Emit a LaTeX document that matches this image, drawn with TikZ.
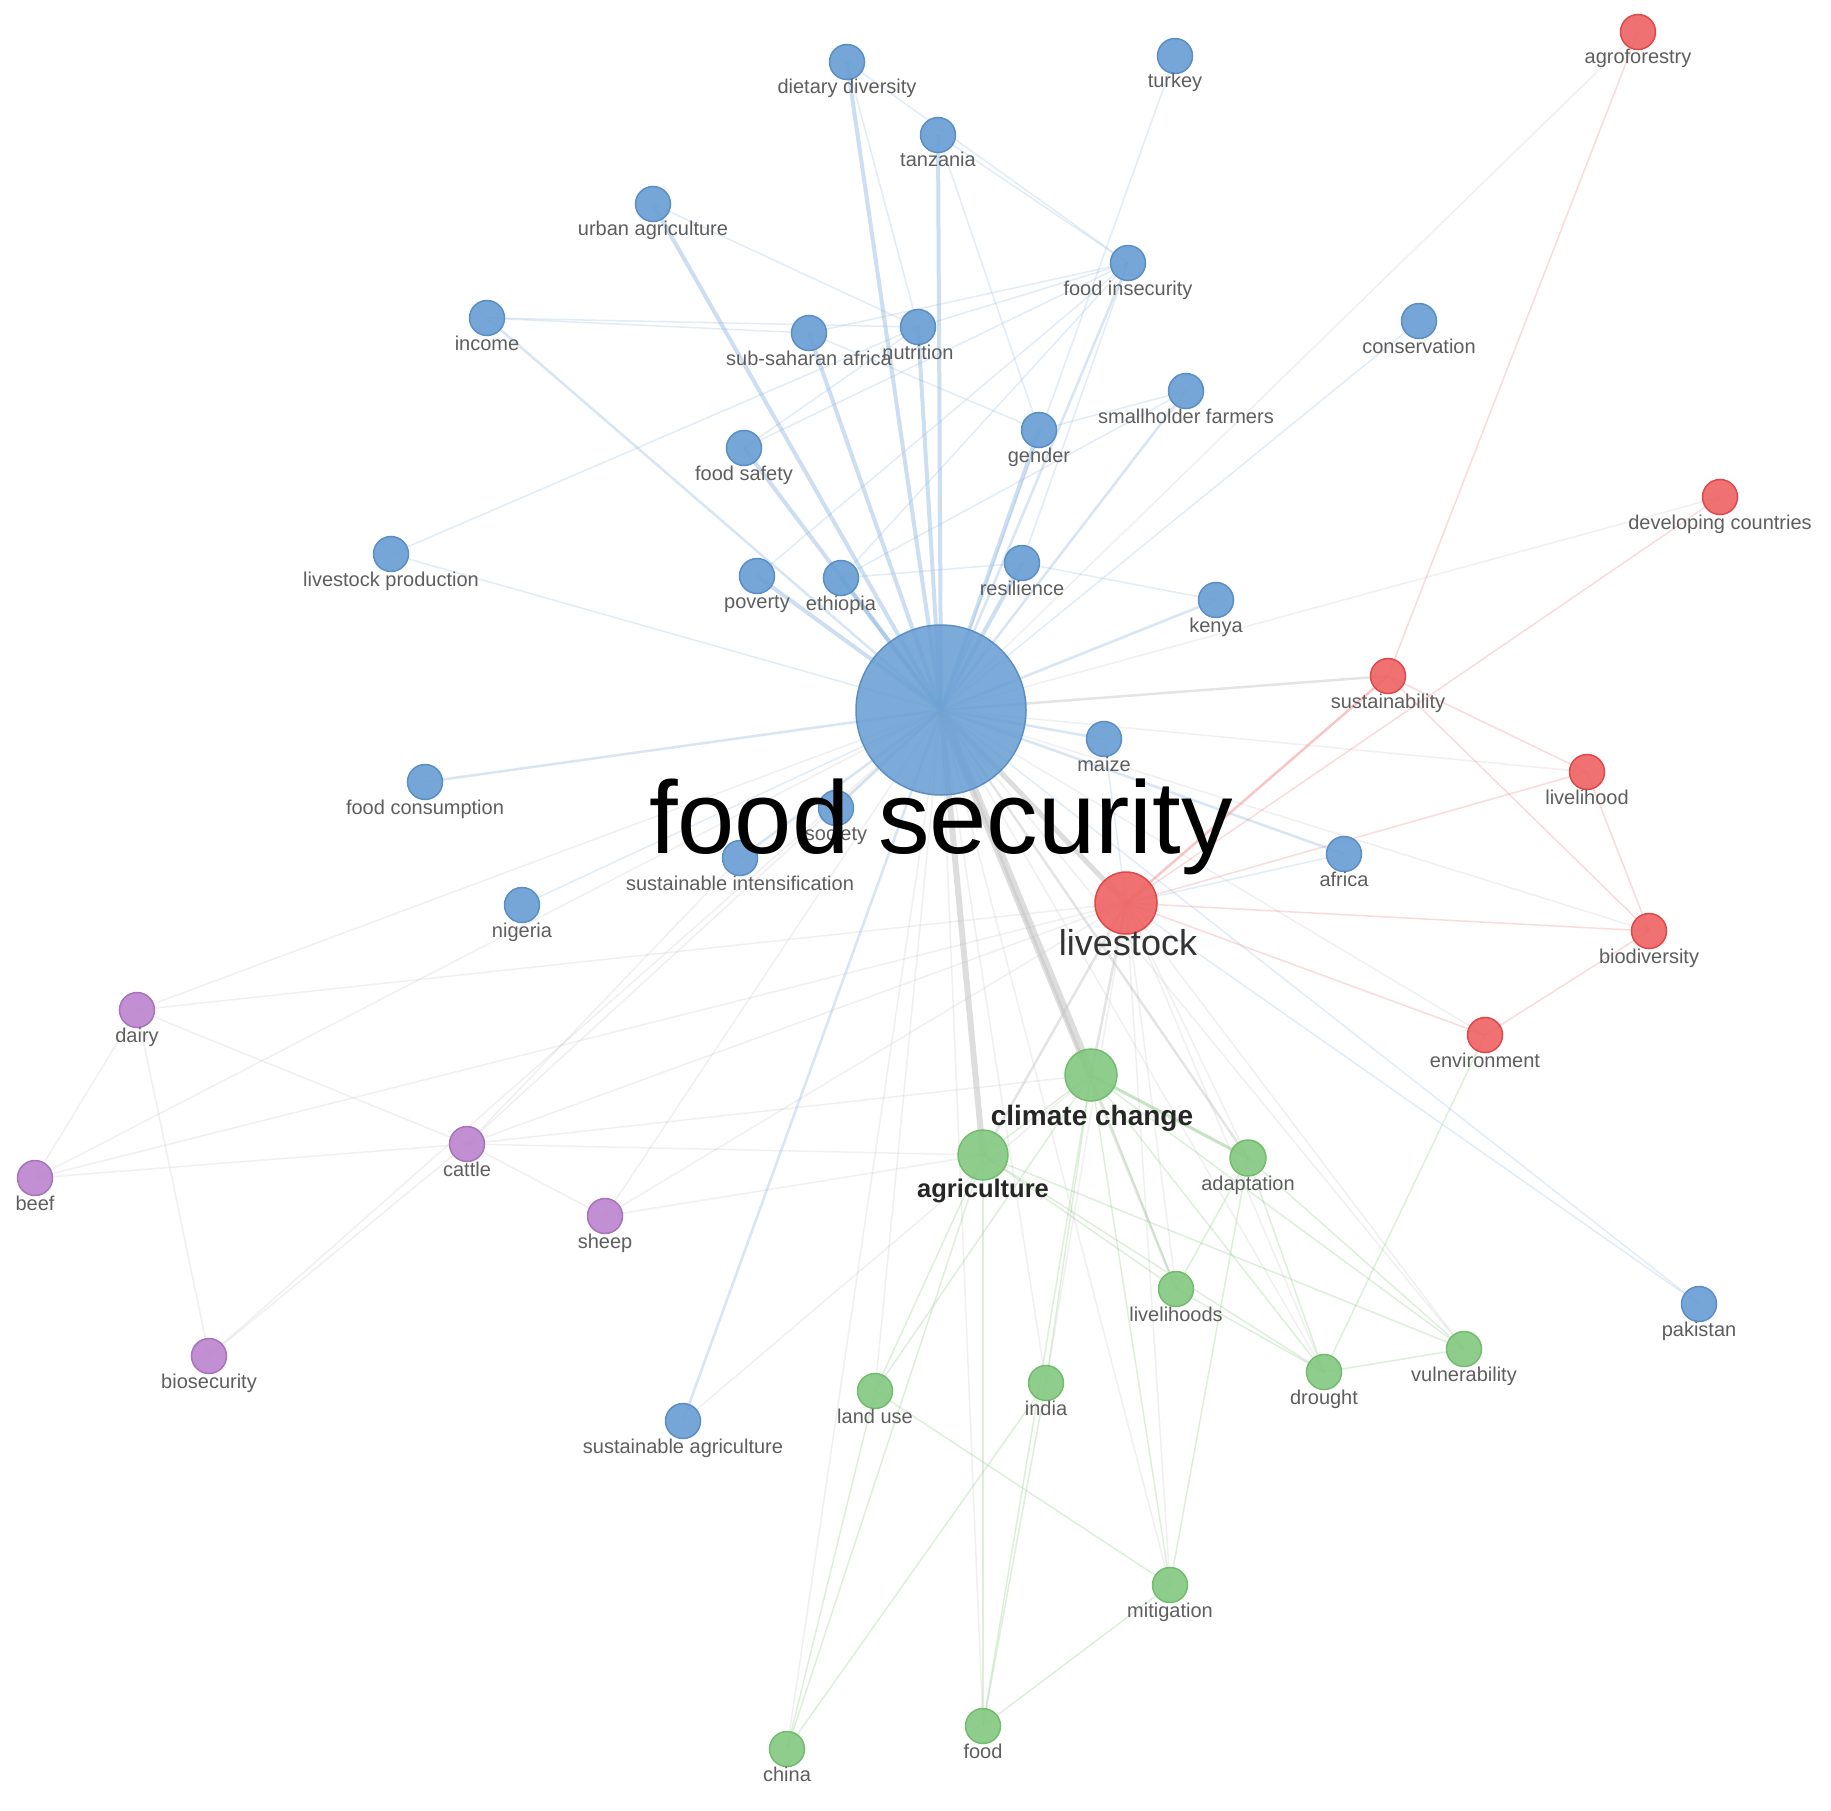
\documentclass[tikz,border=0pt]{standalone}
\usepackage{fontspec}
\setmainfont{Liberation Sans}
\usetikzlibrary{backgrounds}
\definecolor{nbf}{HTML}{6A9FD4}\definecolor{nbd}{HTML}{5A8FC6}
\definecolor{nrf}{HTML}{EE6565}\definecolor{nrd}{HTML}{E04848}
\definecolor{ngf}{HTML}{86C983}\definecolor{ngd}{HTML}{70BD6C}
\definecolor{npf}{HTML}{BC86CF}\definecolor{npd}{HTML}{A872BC}
\definecolor{lblc}{HTML}{5E5E5E}
\definecolor{ebc}{HTML}{8FB6E0}
\definecolor{egc}{HTML}{BDBDBD}
\definecolor{erc}{HTML}{F29A9A}
\definecolor{egnc}{HTML}{9ED39A}
\tikzset{
  nb/.style={circle, fill=nbf, draw=nbd, line width=1.5pt, fill opacity=0.92, inner sep=0pt},
  nr/.style={circle, fill=nrf, draw=nrd, line width=1.5pt, fill opacity=0.92, inner sep=0pt},
  ng/.style={circle, fill=ngf, draw=ngd, line width=1.5pt, fill opacity=0.92, inner sep=0pt},
  np/.style={circle, fill=npf, draw=npd, line width=1.5pt, fill opacity=0.92, inner sep=0pt},
  lbl/.style={text=lblc, font=\fontsize{20}{24}\selectfont, inner sep=0pt},
  eb/.style={draw=ebc, line width=1.5pt, draw opacity=0.25},
  ebm/.style={draw=ebc, line width=2.5pt, draw opacity=0.35},
  ebt/.style={draw=ebc, line width=4pt, draw opacity=0.45},
  eg/.style={draw=egc, line width=1.5pt, draw opacity=0.22},
  egm/.style={draw=egc, line width=2.5pt, draw opacity=0.4},
  er/.style={draw=erc, line width=1.5pt, draw opacity=0.35},
  erm/.style={draw=erc, line width=2.5pt, draw opacity=0.55},
  egn/.style={draw=egnc, line width=1.5pt, draw opacity=0.35},
  egnm/.style={draw=egnc, line width=3pt, draw opacity=0.6},
}
\newcommand{\kwn}[6]{%
  \node[#4, minimum size=#5pt] (#1) at (#2,#3) {};
  \node[lbl, anchor=base] (#1-l) at (#2,#3+32) {#6};}
\begin{document}
\begin{tikzpicture}[x=1pt,y=-1pt]
\useasboundingbox (0,0) rectangle (1831,1811);
% main nodes
\node[nb, minimum size=170pt, fill opacity=0.88] (fs) at (941,710) {};
\node[nr, minimum size=62pt] (lv) at (1126,903) {};
\node[ng, minimum size=52pt] (cc) at (1091,1075) {};
\node[ng, minimum size=50pt] (agr) at (983,1155) {};
% green
\kwn{adp}{1248}{1158}{ng}{36}{adaptation}
\kwn{lvh}{1176}{1289}{ng}{35}{livelihoods}
\kwn{drt}{1324}{1372}{ng}{35}{drought}
\kwn{vul}{1464}{1349}{ng}{35}{vulnerability}
\kwn{ind}{1046}{1383}{ng}{35}{india}
\kwn{lu}{875}{1391}{ng}{35}{land use}
\kwn{mit}{1170}{1585}{ng}{35}{mitigation}
\kwn{food}{983}{1726}{ng}{35}{food}
\kwn{chn}{787}{1749}{ng}{35}{china}
% red
\kwn{agf}{1638}{32}{nr}{35}{agroforestry}
\kwn{dc}{1720}{497}{nr}{35}{developing countries}
\kwn{sus}{1388}{676}{nr}{35}{sustainability}
\kwn{lvd}{1587}{772}{nr}{35}{livelihood}
\kwn{bio}{1649}{931}{nr}{35}{biodiversity}
\kwn{env}{1485}{1035}{nr}{35}{environment}
% purple
\kwn{dai}{137}{1010}{np}{35}{dairy}
\kwn{cat}{467}{1144}{np}{35}{cattle}
\kwn{bef}{35}{1178}{np}{35}{beef}
\kwn{shp}{605}{1216}{np}{35}{sheep}
\kwn{bsc}{209}{1356}{np}{35}{biosecurity}
% blue
\kwn{dd}{847}{62}{nb}{35}{dietary diversity}
\kwn{tur}{1175}{56}{nb}{35}{turkey}
\kwn{tz}{938}{135}{nb}{35}{tanzania}
\kwn{ua}{653}{204}{nb}{35}{urban agriculture}
\kwn{fi}{1128}{263}{nb}{35}{food insecurity}
\kwn{inc}{487}{318}{nb}{35}{income}
\kwn{ssa}{809}{333}{nb}{35}{sub-saharan africa}
\kwn{nut}{918}{327}{nb}{35}{nutrition}
\kwn{con}{1419}{321}{nb}{35}{conservation}
\kwn{shf}{1186}{391}{nb}{35}{smallholder farmers}
\kwn{gen}{1039}{430}{nb}{35}{gender}
\kwn{fsf}{744}{448}{nb}{35}{food safety}
\kwn{lp}{391}{554}{nb}{35}{livestock production}
\kwn{pov}{757}{576}{nb}{35}{poverty}
\kwn{eth}{841}{578}{nb}{35}{ethiopia}
\kwn{res}{1022}{563}{nb}{35}{resilience}
\kwn{ken}{1216}{600}{nb}{35}{kenya}
\kwn{mai}{1104}{739}{nb}{35}{maize}
\kwn{fc}{425}{782}{nb}{35}{food consumption}
\kwn{soc}{836}{808}{nb}{35}{society}
\kwn{si}{740}{858}{nb}{35}{sustainable intensification}
\kwn{nig}{522}{905}{nb}{35}{nigeria}
\kwn{afr}{1344}{854}{nb}{35}{africa}
\kwn{pak}{1699}{1304}{nb}{35}{pakistan}
\kwn{sa}{683}{1421}{nb}{35}{sustainable agriculture}
% big labels
\node[anchor=base, inner sep=0pt, text=black, font=\fontsize{103}{110}\selectfont] (fs-l) at (941,853) {food security};
\node[anchor=base, inner sep=0pt, text=black!80, font=\fontsize{36}{40}\selectfont] (lv-l) at (1128,955) {livestock};
\node[anchor=base, inner sep=0pt, text=black!85, font=\bfseries\fontsize{28}{32}\selectfont] (cc-l) at (1092,1125) {climate change};
\node[anchor=base, inner sep=0pt, text=black!85, font=\bfseries\fontsize{25.5}{30}\selectfont] (agr-l) at (983,1197) {agriculture};
% edges
\begin{scope}[on background layer]
\fill[white] (0,0) rectangle (1831,1811);
\foreach \a/\b in {fs/tur, fs/con, fs/lp, fs/nig, fs/pak, inc/nut, inc/ssa, ua/nut, dd/fi, tz/fi, fi/ssa, fi/fsf, fi/pov, fi/eth, fi/res, nut/fi, nut/fsf, lp/nut, gen/shf, eth/res, res/ken, tz/gen, dd/nut, ssa/gen, shf/eth, lv/afr, lv/mai, lv/pak}
  \draw[eb] (\a.center) -- (\b.center);
\foreach \a/\b in {fs/fi, fs/shf, fs/ken, fs/mai, fs/afr, fs/sa, fs/soc, fs/si, fs/inc, fs/fc}
  \draw[ebm] (\a.center) -- (\b.center);
\foreach \a/\b in {fs/dd, fs/tz, fs/nut, fs/ssa, fs/gen, fs/eth, fs/pov, fs/res, fs/fsf, fs/ua}
  \draw[ebt] (\a.center) -- (\b.center);
\foreach \a/\b in {fs/drt, fs/vul, fs/ind, fs/lu, fs/mit, fs/food, fs/chn, fs/dai, fs/cat, fs/bef, fs/shp, fs/bsc, fs/agf, fs/dc, fs/lvd, fs/bio, fs/env, lv/adp, lv/lvh, lv/drt, lv/vul, lv/mit, lv/cat, lv/dai, lv/shp, lv/ind, lv/bef, cat/agr, cat/cc, cat/si, dai/cat, dai/bef, dai/bsc, bef/cat, cat/shp, cat/bsc, shp/agr, cc/sa}
  \draw[eg] (\a.center) -- (\b.center);
\foreach \a/\b in {fs/sus, fs/adp, fs/lvh, lv/cc, lv/agr}
  \draw[egm] (\a.center) -- (\b.center);
\draw[draw=egc, line width=9pt, draw opacity=0.5] (fs.center) -- (cc.center);
\draw[draw=egc, line width=6pt, draw opacity=0.5] (fs.center) -- (agr.center);
\draw[draw=egc, line width=5pt, draw opacity=0.5] (fs.center) -- (lv.center);
\foreach \a/\b in {lv/dc, lv/bio, lv/env, lv/lvd, sus/agf, sus/lvd, sus/bio, lvd/bio, env/bio}
  \draw[er] (\a.center) -- (\b.center);
\draw[erm] (lv.center) -- (sus.center);
\foreach \a/\b in {cc/agr, cc/lvh, cc/drt, cc/vul, cc/mit, cc/ind, cc/food, agr/food, agr/chn, agr/lu, agr/drt, agr/vul, agr/lvh, lu/mit, ind/chn, ind/food, mit/food, adp/drt, adp/vul, adp/lvh, adp/mit, lvh/drt, drt/vul, env/drt, lu/chn, cc/lu}
  \draw[egn] (\a.center) -- (\b.center);
\draw[egnm] (cc.center) -- (adp.center);
\end{scope}
\end{tikzpicture}
\end{document}
